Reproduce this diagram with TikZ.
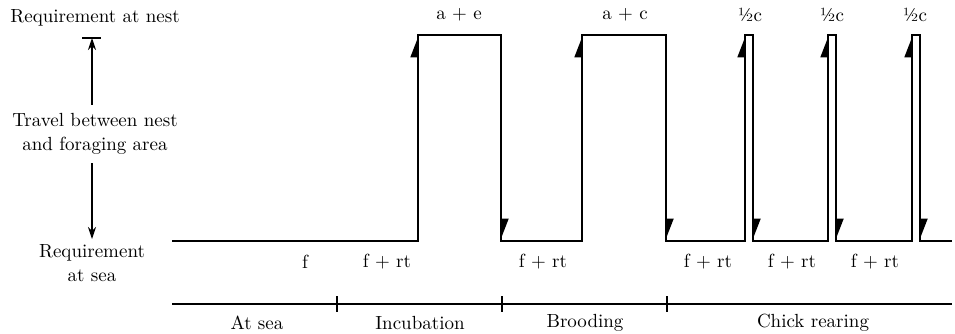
\documentclass[tikz,border=0pt]{standalone}
\usetikzlibrary{arrows.meta}
\begin{document}
\begin{tikzpicture}[x=0.5pt,y=-0.5pt,line width=0.9pt,
  lbl/.style={font=\fontsize{9.5}{12}\selectfont,inner sep=0pt},
  harp/.style={-{Triangle[left,length=10pt,width=7.5pt]}},
  axisarrow/.style={line width=0.6pt,-{Stealth[length=6pt,width=4pt]}}]
\useasboundingbox (0,0) rectangle (955,333);
% left annotations
\node[lbl] (reqnest) at (95,18) {Requirement at nest};
\coordinate (tickL) at (82,38);
\coordinate (tickR) at (101,38);
\coordinate (ntop) at (92,38);
\coordinate (nbot) at (92,239);
\draw[line width=0.6pt] (tickL) -- (tickR);
\node[lbl,align=center,inner sep=4pt] (travel) at (95,134) {Travel between nest\\and foraging area};
\draw[axisarrow] (travel.north -| ntop) -- (ntop);
\draw[axisarrow] (travel.south -| nbot) -- (nbot);
\node[lbl,align=center] (reqsea) at (92,263) {Requirement\\at sea};
% waveform
\draw (172,241) -- (418,241) -- (418,35) -- (501,35) -- (501,241) -- (582,241)
  -- (582,35) -- (666,35) -- (666,241) -- (745,241) -- (745,35) -- (753,35)
  -- (753,241) -- (828,241) -- (828,35) -- (836,35) -- (836,241) -- (912,241)
  -- (912,35) -- (920,35) -- (920,241) -- (952,241);
\foreach \u in {418,582,745,828,912} \draw[harp] (\u,241) -- (\u,35);
\foreach \d in {501,666,753,836,920} \draw[harp] (\d,35) -- (\d,241);
% top labels
\node[lbl] (ae) at (459,15) {a + e};
\node[lbl] (ac) at (625,15) {a + c};
\node[lbl] (h1) at (750,15) {½c};
\node[lbl] (h2) at (832,15) {½c};
\node[lbl] (h3) at (915,15) {½c};
% bottom labels
\node[lbl] (f0) at (305,262) {f};
\node[lbl] (f1) at (387,262) {f + rt};
\node[lbl] (f2) at (543,262) {f + rt};
\node[lbl] (f3) at (708,262) {f + rt};
\node[lbl] (f4) at (792,262) {f + rt};
\node[lbl] (f5) at (875,262) {f + rt};
% timeline
\draw (172,304) -- (952,304);
\foreach \t in {337,502,667} \draw (\t,296) -- (\t,312);
\node[lbl] (atsea) at (257,323) {At sea};
\node[lbl] (incub) at (420,323) {Incubation};
\node[lbl] (brood) at (585,323) {Brooding};
\node[lbl] (chick) at (813,323) {Chick rearing};
\end{tikzpicture}
\end{document}
